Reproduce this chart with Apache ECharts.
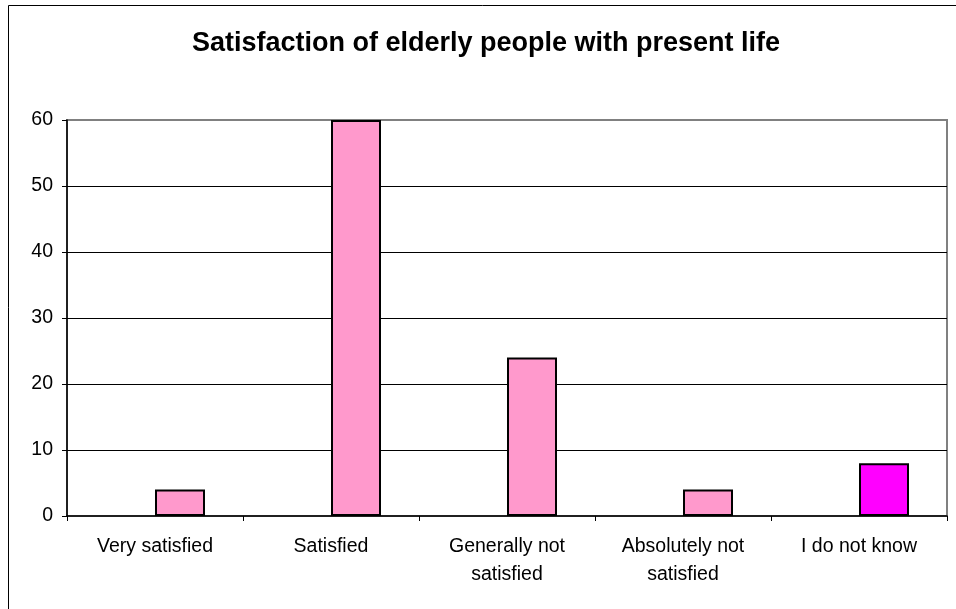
<!DOCTYPE html>
<html>
<head>
<meta charset="utf-8">
<script src="https://cdn.jsdelivr.net/npm/echarts@6/dist/echarts.min.js"></script>
<style>
  html, body { margin: 0; padding: 0; background: #fff; }
  #chart { width: 956px; height: 609px; }
</style>
</head>
<body>
<div id="chart"></div>
<script>
// Survey answers and the share of respondents (%) giving each one
const categories = ['Very satisfied', 'Satisfied', 'Generally not\nsatisfied', 'Absolutely not\nsatisfied', 'I do not know'];
const shares = [4, 60, 24, 4, 8];
// Empty companion series: keeps each bar in the right half of its category slot
const emptySeries = [null, null, null, null, null];
const barColors = ['#FF99CC', '#FF99CC', '#FF99CC', '#FF99CC', '#FF00FF'];
const yTicks = { min: 0, max: 60, step: 10 };

const FONT = 'Arial, "Liberation Sans", sans-serif';

const chart = echarts.init(document.getElementById('chart'), null, { renderer: 'canvas' });

chart.setOption({
  backgroundColor: '#ffffff',
  animation: false,
  title: {
    text: 'Satisfaction of elderly people with present life',
    left: 187,
    top: 25,
    textStyle: { fontFamily: FONT, fontSize: 27, fontWeight: 'bold', color: '#000' }
  },
  graphic: [{
    type: 'rect',
    silent: true,
    shape: { x: 8.5, y: 5.5, width: 1200, height: 1200 },
    style: { fill: 'none', stroke: '#000', lineWidth: 1 }
  }],
  grid: {
    left: 67, right: 9, top: 120, bottom: 93,
    show: true,
    borderColor: '#808080',
    borderWidth: 2,
    backgroundColor: 'transparent'
  },
  xAxis: {
    type: 'category',
    data: categories,
    axisLine: { show: true, lineStyle: { color: '#000', width: 1.5 } },
    axisTick: { show: true, length: 5, lineStyle: { color: '#000', width: 1 } },
    axisLabel: {
      fontFamily: FONT, fontSize: 19.5, lineHeight: 27.6, color: '#000',
      margin: 17, interval: 0
    },
    splitLine: { show: false }
  },
  yAxis: {
    type: 'value',
    min: yTicks.min, max: yTicks.max, interval: yTicks.step,
    axisLine: { show: true, lineStyle: { color: '#000', width: 1.5 } },
    axisTick: { show: true, length: 5, lineStyle: { color: '#000', width: 1 } },
    axisLabel: { fontFamily: FONT, fontSize: 19.5, color: '#000', margin: 14 },
    splitLine: { show: true, showMinLine: false, showMaxLine: false, lineStyle: { color: '#000', width: 1 } }
  },
  series: [
    {
      name: 'blank',
      type: 'bar',
      barWidth: 50,
      barGap: '0%',
      data: emptySeries
    },
    {
      name: 'share',
      type: 'bar',
      barWidth: 50,
      barGap: '0%',
      data: shares.map((v, i) => ({
        value: v,
        itemStyle: { color: barColors[i], borderColor: '#000', borderWidth: 2 }
      }))
    }
  ]
});
</script>
</body>
</html>
